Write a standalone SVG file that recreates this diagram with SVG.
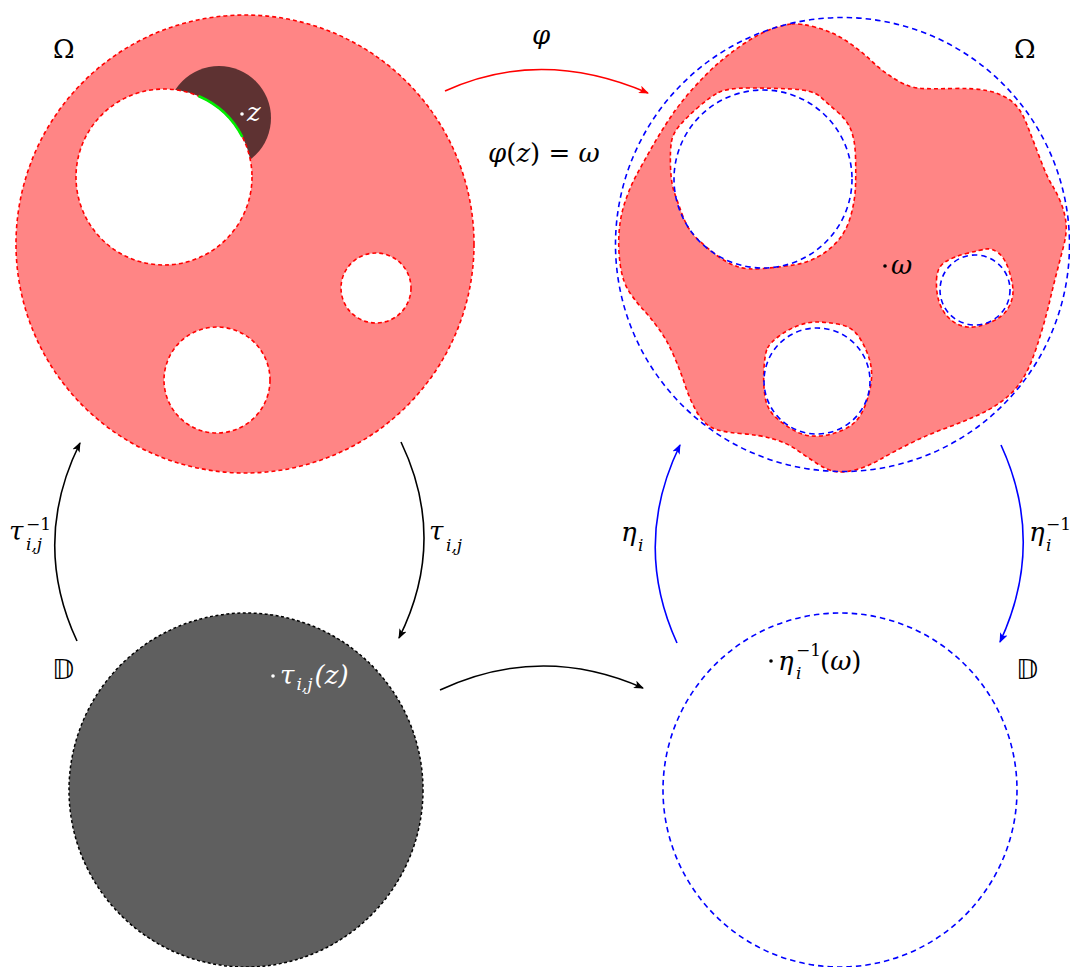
<svg xmlns="http://www.w3.org/2000/svg" width="1070" height="967" viewBox="0 0 1070 967">
<style>
.math{font-family:"DejaVu Serif","Liberation Serif",serif;font-style:italic;font-size:26px;fill:#000}
.up{font-family:"DejaVu Serif","Liberation Serif",serif;font-size:26px;fill:#000}
.sub{font-family:"DejaVu Serif","Liberation Serif",serif;font-style:italic;font-size:17px;fill:#000}
.supn{font-family:"DejaVu Serif","Liberation Serif",serif;font-size:17px;fill:#000}
.bb{font-family:"DejaVu Sans","Noto Sans",sans-serif;font-size:27px;fill:#000}
.w{fill:#fff}
.rdash{fill:none;stroke:#ff0000;stroke-width:1.6;stroke-dasharray:4 3}
.bdash{fill:none;stroke:#0000ff;stroke-width:1.6;stroke-dasharray:5.5 4}
.kdash{fill:none;stroke:#000;stroke-width:1.5;stroke-dasharray:3 2.5}
.hole{fill:#fff}
.arr{fill:none;stroke-width:1.6}
</style>
<defs>
<marker id="ak" viewBox="0 0 10 8" refX="9" refY="4" markerWidth="10" markerHeight="8" markerUnits="userSpaceOnUse" orient="auto"><path d="M0,0 L10,4 L0,8 L2.5,4 z" fill="#000"/></marker>
<marker id="ar" viewBox="0 0 10 8" refX="9" refY="4" markerWidth="10" markerHeight="8" markerUnits="userSpaceOnUse" orient="auto"><path d="M0,0 L10,4 L0,8 L2.5,4 z" fill="#ff0000"/></marker>
<marker id="ab" viewBox="0 0 10 8" refX="9" refY="4" markerWidth="10" markerHeight="8" markerUnits="userSpaceOnUse" orient="auto"><path d="M0,0 L10,4 L0,8 L2.5,4 z" fill="#0000ff"/></marker>
</defs>

<g id="omega-left">
<circle cx="245" cy="244" r="229" fill="#ff8585"/>
<circle cx="219" cy="118" r="52" fill="#5e3232"/>
<circle class="rdash" cx="245" cy="244" r="229"/>
<circle class="hole" cx="164" cy="177" r="88"/>
<circle class="rdash" cx="164" cy="177" r="88"/>
<circle class="hole" cx="376" cy="288" r="35"/>
<circle class="rdash" cx="376" cy="288" r="35"/>
<circle class="hole" cx="217" cy="380" r="53"/>
<circle class="rdash" cx="217" cy="380" r="53"/>
<path d="M198.4,96 A88,88 0 0 1 242.4,137" fill="none" stroke="#00ee00" stroke-width="2.6"/>
<circle cx="242" cy="114" r="1.8" fill="#fff"/>
<text class="math w" x="247" y="121" font-size="23">z</text>
<text class="up" x="53" y="58" font-size="25">Ω</text>
</g>

<g id="omega-right">
<path fill="#ff8585" fill-rule="evenodd" d="M791.5,24 Q800,23 816.5,27.5 Q833,32 846.5,41 Q860,50 871.5,61 Q883,72 896.5,80 Q910,88 921.5,88.5 Q933,89 953,88.5 Q973,88 986.5,90.5 Q1000,93 1010,100 Q1020,107 1026.5,123.5 Q1033,140 1040,158.5 Q1047,177 1052,185 Q1057,193 1061,203 Q1065,213 1066,223 Q1067,233 1063.5,246.5 Q1060,260 1056.5,273.5 Q1053,287 1050,300 Q1047,313 1042,330 Q1037,347 1032,360 Q1027,373 1020,383 Q1013,393 1001.5,401.5 Q990,410 975,416.5 Q960,423 943.5,429 Q927,435 910,443.5 Q893,452 880,459.5 Q867,467 855,470 Q843,473 835,471.5 Q827,470 817,463.5 Q807,457 797,450 Q787,443 773.5,439 Q760,435 740,433.5 Q720,432 711.5,427.5 Q703,423 696.5,411.5 Q690,400 685,385 Q680,370 673.5,355 Q667,340 658.5,328.5 Q650,317 643.5,310 Q637,303 630,293 Q623,283 620.5,266.5 Q618,250 619,233.5 Q620,217 625,202 Q630,187 636.5,175 Q643,163 651.5,148 Q660,133 670,118 Q680,103 693.5,88 Q707,73 718.5,63 Q730,53 745,43 Q760,33 771.5,29 Q783,25 791.5,24 Z
M718.5,92.5 Q727,88 748.5,88 Q770,88 791.5,89 Q813,90 820,96.5 Q827,103 837,111.5 Q847,120 851,130 Q855,140 855.5,156.5 Q856,173 855.5,186.5 Q855,200 851,215 Q847,230 838.5,240 Q830,250 818.5,256.5 Q807,263 793.5,265 Q780,267 763.5,268.5 Q747,270 737,266.5 Q727,263 717,255.5 Q707,248 697.5,239 Q688,230 683,216.5 Q678,203 674.5,193 Q671,183 670.5,166.5 Q670,150 671.5,141.5 Q673,133 680,125 Q687,117 698.5,107 Q710,97 718.5,92.5 Z
M936.5,280 Q937,267 945,262 Q953,257 966.5,253.5 Q980,250 986,249 Q992,248 998.5,253 Q1005,258 1009,270.5 Q1013,283 1013,291.5 Q1013,300 1008,308.5 Q1003,317 990,322.5 Q977,328 967.5,327 Q958,326 950.5,319.5 Q943,313 939.5,303 Q936,293 936.5,280 Z
M767.5,348 Q770,343 778.5,336.5 Q787,330 797,326 Q807,322 817,322 Q827,322 840,324.5 Q853,327 860,338.5 Q867,350 870,361.5 Q873,373 870.5,386.5 Q868,400 862.5,411.5 Q857,423 845,429 Q833,435 820,436 Q807,437 797,432 Q787,427 777,418.5 Q767,410 765,396.5 Q763,383 764,368 Q765,353 767.5,348 Z"/>
<path class="rdash" d="M791.5,24 Q800,23 816.5,27.5 Q833,32 846.5,41 Q860,50 871.5,61 Q883,72 896.5,80 Q910,88 921.5,88.5 Q933,89 953,88.5 Q973,88 986.5,90.5 Q1000,93 1010,100 Q1020,107 1026.5,123.5 Q1033,140 1040,158.5 Q1047,177 1052,185 Q1057,193 1061,203 Q1065,213 1066,223 Q1067,233 1063.5,246.5 Q1060,260 1056.5,273.5 Q1053,287 1050,300 Q1047,313 1042,330 Q1037,347 1032,360 Q1027,373 1020,383 Q1013,393 1001.5,401.5 Q990,410 975,416.5 Q960,423 943.5,429 Q927,435 910,443.5 Q893,452 880,459.5 Q867,467 855,470 Q843,473 835,471.5 Q827,470 817,463.5 Q807,457 797,450 Q787,443 773.5,439 Q760,435 740,433.5 Q720,432 711.5,427.5 Q703,423 696.5,411.5 Q690,400 685,385 Q680,370 673.5,355 Q667,340 658.5,328.5 Q650,317 643.5,310 Q637,303 630,293 Q623,283 620.5,266.5 Q618,250 619,233.5 Q620,217 625,202 Q630,187 636.5,175 Q643,163 651.5,148 Q660,133 670,118 Q680,103 693.5,88 Q707,73 718.5,63 Q730,53 745,43 Q760,33 771.5,29 Q783,25 791.5,24 Z
M718.5,92.5 Q727,88 748.5,88 Q770,88 791.5,89 Q813,90 820,96.5 Q827,103 837,111.5 Q847,120 851,130 Q855,140 855.5,156.5 Q856,173 855.5,186.5 Q855,200 851,215 Q847,230 838.5,240 Q830,250 818.5,256.5 Q807,263 793.5,265 Q780,267 763.5,268.5 Q747,270 737,266.5 Q727,263 717,255.5 Q707,248 697.5,239 Q688,230 683,216.5 Q678,203 674.5,193 Q671,183 670.5,166.5 Q670,150 671.5,141.5 Q673,133 680,125 Q687,117 698.5,107 Q710,97 718.5,92.5 Z
M936.5,280 Q937,267 945,262 Q953,257 966.5,253.5 Q980,250 986,249 Q992,248 998.5,253 Q1005,258 1009,270.5 Q1013,283 1013,291.5 Q1013,300 1008,308.5 Q1003,317 990,322.5 Q977,328 967.5,327 Q958,326 950.5,319.5 Q943,313 939.5,303 Q936,293 936.5,280 Z
M767.5,348 Q770,343 778.5,336.5 Q787,330 797,326 Q807,322 817,322 Q827,322 840,324.5 Q853,327 860,338.5 Q867,350 870,361.5 Q873,373 870.5,386.5 Q868,400 862.5,411.5 Q857,423 845,429 Q833,435 820,436 Q807,437 797,432 Q787,427 777,418.5 Q767,410 765,396.5 Q763,383 764,368 Q765,353 767.5,348 Z"/>
<circle class="bdash" cx="842.5" cy="244.5" r="227"/>
<circle class="bdash" cx="763" cy="179" r="89"/>
<circle class="bdash" cx="975" cy="290" r="35"/>
<circle class="bdash" cx="817" cy="381" r="53"/>
<circle cx="885" cy="266" r="1.8" fill="#000"/>
<text class="math" x="891" y="274">ω</text>
<text class="up" x="1014" y="58" font-size="25">Ω</text>
</g>

<g id="disk-left">
<circle cx="246" cy="790" r="177" fill="#5f5f5f"/>
<circle class="kdash" cx="246" cy="790" r="177"/>
<circle cx="273" cy="676" r="1.8" fill="#fff"/>
<text class="math w" x="280" y="684">τ<tspan class="sub w" dx="2" dy="6">i,j</tspan><tspan class="up w" dx="2" dy="-6">(</tspan>z<tspan class="up w">)</tspan></text>
<text class="bb" x="52" y="679">𝔻</text>
</g>

<g id="disk-right">
<circle cx="771" cy="661" r="1.8" fill="#000"/>
<circle class="bdash" cx="840" cy="790" r="177"/>
<text class="math" x="778" y="670">η</text>
<text class="supn" x="796" y="656">−1</text>
<text class="sub" x="796" y="679">i</text>
<text class="up" x="820" y="670">(<tspan font-style="italic">ω</tspan>)</text>
<text class="bb" x="1016" y="679">𝔻</text>
</g>

<g id="connectors">
<path class="arr" stroke="#ff0000" marker-end="url(#ar)" d="M445,91 Q541,47 648,93"/>
<path class="arr" stroke="#000" marker-end="url(#ak)" d="M440,690 Q541,643 643,688"/>
<path class="arr" stroke="#000" marker-end="url(#ak)" d="M77,641 Q31,542 80,443"/>
<path class="arr" stroke="#000" marker-end="url(#ak)" d="M401,442 Q448,540 399,638"/>
<path class="arr" stroke="#0000ff" marker-end="url(#ab)" d="M677,643 Q632,544 680,445"/>
<path class="arr" stroke="#0000ff" marker-end="url(#ab)" d="M1001,445 Q1046,543 1000,642"/>
</g>

<g id="labels">
<text class="math" x="532" y="44">φ</text>
<text class="math" x="488" y="162">φ<tspan font-style="normal">(</tspan>z<tspan font-style="normal">) = </tspan>ω</text>
<text class="math" x="9" y="540">τ</text>
<text class="supn" x="26" y="530">−1</text>
<text class="sub" x="26" y="550">i,j</text>
<text class="math" x="429" y="540">τ</text>
<text class="sub" x="446" y="551">i,j</text>
<text class="math" x="621" y="541">η</text>
<text class="sub" x="638" y="551">i</text>
<text class="math" x="1029" y="541">η</text>
<text class="supn" x="1046" y="530">−1</text>
<text class="sub" x="1046" y="551">i</text>
</g>
</svg>
